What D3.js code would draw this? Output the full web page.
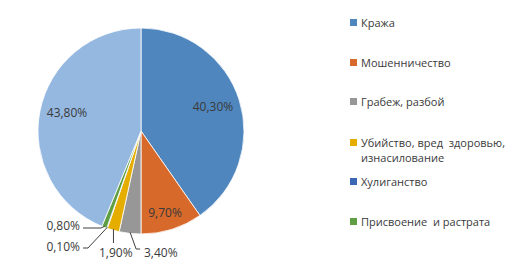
<!DOCTYPE html>
<html>
<head>
<meta charset="utf-8">
<script src="https://cdn.jsdelivr.net/npm/d3@7"></script>
<style>
  body { margin: 0; background: #fff; }
  svg text { font-family: "Open Sans", "Liberation Sans", sans-serif; fill: #3a3a3a; }
</style>
</head>
<body>
<div id="chart"></div>
<script>
// Crime structure, share of total (%)
var categories = ["Кража", "Мошенничество", "Грабеж, разбой", "Убийство, вред здоровью, изнасилование", "Хулиганство", "Присвоение  и растрата", "Прочие"];
var values = [40.3, 9.7, 3.4, 1.9, 0.1, 0.8, 43.8];
var labels = ["40,30%", "9,70%", "3,40%", "1,90%", "0,10%", "0,80%", "43,80%"];
var colors = ["#4f86bd", "#d7692b", "#979797", "#e5ad00", "#3c67b4", "#5f9e42", "#95b8e0"];
// legend shows the first six only
var legendLines = [["Кража"], ["Мошенничество"], ["Грабеж, разбой"], ["Убийство, вред  здоровью,", "изнасилование"], ["Хулиганство"], ["Присвоение  и растрата"]];

var width = 519, height = 265;
var cx = 141, cy = 131, radius = 103;

var svg = d3.select("#chart").append("svg")
    .attr("width", width)
    .attr("height", height);

var pie = d3.pie().sort(null).value(function (d) { return d; });
var arcs = pie(values);

var arc = d3.arc().innerRadius(0).outerRadius(radius);

var g = svg.append("g").attr("transform", "translate(" + cx + "," + cy + ")");

g.selectAll("path")
    .data(arcs)
    .enter().append("path")
    .attr("d", arc)
    .attr("fill", function (d, i) { return colors[i]; })
    .attr("stroke", "#fff")
    .attr("stroke-width", 0.8);

// labels inside big slices
var inside = { 0: [72, -24], 1: [24, 82], 6: [-74, -18] };

function edge(i, r) {
    var a = (arcs[i].startAngle + arcs[i].endAngle) / 2;
    return [Math.sin(a) * r, -Math.cos(a) * r];
}

Object.keys(inside).forEach(function (k) {
    g.append("text")
        .attr("x", inside[k][0]).attr("y", inside[k][1])
        .attr("text-anchor", "middle")
        .attr("dy", "0.35em")
        .attr("font-size", "12px")
        .text(labels[k]);
});

// outside labels with leader lines
var line = d3.line();
var outside = [
    { i: 2, pts: function (e) { return [e, [e[0] + 6, 118], [e[0] + 10, 118]]; }, x: 3, y: 122, anchor: "start" },
    { i: 3, pts: function (e) { return [e, [e[0], 112]]; }, x: -42, y: 122, anchor: "start" },
    { i: 4, pts: function (e) { return [e, [-53, 117], [-58, 117]]; }, x: -61, y: 116, anchor: "end" },
    { i: 5, pts: function (e) { return [e, [-40, 97], [-58, 97]]; }, x: -61, y: 95, anchor: "end" }
];

outside.forEach(function (o) {
    var e = edge(o.i, radius - 1);
    g.append("path")
        .attr("d", line(o.pts(e)))
        .attr("fill", "none")
        .attr("stroke", "#404040")
        .attr("stroke-width", 1);
    g.append("text")
        .attr("x", o.x).attr("y", o.y)
        .attr("text-anchor", o.anchor)
        .attr("dy", "0.35em")
        .attr("font-size", "12px")
        .text(labels[o.i]);
});

// legend
var legendY = [23, 63, 102, 143, 182, 222];
var legend = svg.append("g").attr("transform", "translate(350,0)");
legendLines.forEach(function (lines, i) {
    legend.append("rect")
        .attr("x", 0).attr("y", legendY[i] - 4)
        .attr("width", 7).attr("height", 7)
        .attr("fill", colors[i]);
    lines.forEach(function (t, j) {
        legend.append("text")
            .attr("x", 11).attr("y", legendY[i] + j * 15)
            .attr("dy", "0.35em")
            .attr("font-size", "11px")
            .style("white-space", "pre")
            .text(t);
    });
});
</script>
</body>
</html>
